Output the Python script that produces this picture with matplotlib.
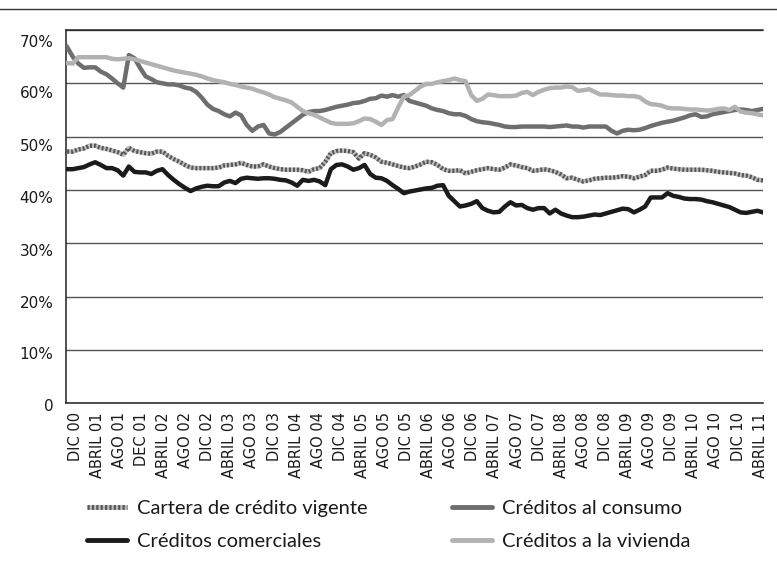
import numpy as np
import pandas as pd
import matplotlib
matplotlib.use("Agg")
import matplotlib.pyplot as plt
from matplotlib.lines import Line2D
from matplotlib.transforms import ScaledTranslation
from matplotlib import font_manager

# ---------------- data (monthly, Dec 2000 - Apr 2011, %) ----------------
months = pd.date_range("2000-12-01", "2011-04-01", freq="MS")

cartera = [
    47.2, 47.2, 47.6, 47.8, 48.3, 48.3, 47.9, 47.7, 47.4, 47.1,
    46.6, 47.9, 47.3, 47.1, 46.9, 46.8, 47.2, 47.2, 46.4, 45.8,
    45.3, 44.7, 44.2, 44.1, 44.1, 44.1, 44.1, 44.2, 44.6, 44.7,
    44.8, 45.1, 44.7, 44.4, 44.4, 44.8, 44.4, 44.1, 43.9, 43.8,
    43.8, 43.8, 43.7, 43.4, 43.9, 44.1, 45.3, 46.9, 47.3, 47.4,
    47.3, 47.1, 45.9, 46.9, 46.6, 46.1, 45.3, 45.1, 44.8, 44.5,
    44.2, 44.1, 44.4, 44.8, 45.3, 45.2, 44.7, 43.9, 43.6, 43.6,
    43.7, 43.1, 43.4, 43.7, 43.9, 44.1, 43.9, 43.8, 44.2, 44.8,
    44.6, 44.3, 44.1, 43.6, 43.7, 43.9, 43.7, 43.4, 42.9, 42.2,
    42.3, 41.9, 41.6, 41.8, 42.1, 42.2, 42.3, 42.3, 42.4, 42.6,
    42.5, 42.2, 42.5, 42.8, 43.6, 43.6, 43.8, 44.2, 44.0, 43.9,
    43.8, 43.8, 43.8, 43.8, 43.7, 43.6, 43.4, 43.3, 43.2, 43.1,
    42.8, 42.7, 42.4, 41.9, 41.8,
]

consumo = [
    66.8, 65.0, 63.7, 62.9, 63.0, 63.0, 62.2, 61.7, 60.9, 60.0,
    59.2, 65.3, 64.7, 62.9, 61.3, 60.8, 60.2, 60.0, 59.8, 59.8,
    59.6, 59.2, 59.0, 58.4, 57.3, 56.0, 55.2, 54.8, 54.2, 53.8,
    54.5, 54.0, 52.2, 51.1, 51.9, 52.2, 50.6, 50.4, 50.9, 51.7,
    52.5, 53.3, 54.1, 54.6, 54.8, 54.8, 55.0, 55.3, 55.6, 55.8,
    56.0, 56.3, 56.4, 56.7, 57.1, 57.2, 57.7, 57.5, 57.8, 57.5,
    57.8, 56.7, 56.4, 56.1, 55.8, 55.3, 55.0, 54.8, 54.4, 54.2,
    54.2, 53.9, 53.3, 52.9, 52.7, 52.6, 52.4, 52.2, 51.9, 51.8,
    51.8, 51.9, 51.9, 51.9, 51.9, 51.9, 51.8, 51.9, 52.0, 52.1,
    51.9, 51.9, 51.7, 51.9, 51.9, 51.9, 51.9, 51.1, 50.6, 51.1,
    51.3, 51.2, 51.3, 51.6, 52.0, 52.3, 52.6, 52.8, 53.0, 53.3,
    53.6, 54.0, 54.2, 53.7, 53.8, 54.2, 54.4, 54.6, 54.8, 55.0,
    55.1, 55.0, 54.8, 55.0, 55.2,
]

comerciales = [
    43.9, 43.9, 44.1, 44.3, 44.8, 45.2, 44.7, 44.1, 44.1, 43.7,
    42.7, 44.4, 43.4, 43.3, 43.3, 43.0, 43.6, 43.9, 42.8, 41.9,
    41.1, 40.4, 39.8, 40.3, 40.6, 40.8, 40.7, 40.7, 41.4, 41.7,
    41.3, 42.1, 42.3, 42.2, 42.1, 42.2, 42.2, 42.1, 41.9, 41.8,
    41.4, 40.8, 41.9, 41.7, 41.9, 41.6, 40.9, 43.9, 44.7, 44.8,
    44.4, 43.8, 44.1, 44.7, 43.0, 42.3, 42.2, 41.7, 40.9, 40.2,
    39.4, 39.7, 39.9, 40.1, 40.3, 40.4, 40.8, 40.9, 38.9, 37.9,
    36.9, 37.1, 37.4, 37.9, 36.6, 36.1, 35.8, 35.9, 36.9, 37.7,
    37.1, 37.2, 36.6, 36.3, 36.6, 36.6, 35.6, 36.3, 35.6, 35.2,
    34.9, 34.9, 35.0, 35.2, 35.4, 35.3, 35.6, 35.9, 36.2, 36.5,
    36.4, 35.8, 36.3, 36.9, 38.6, 38.6, 38.6, 39.4, 38.9, 38.7,
    38.4, 38.3, 38.3, 38.2, 37.9, 37.7, 37.4, 37.1, 36.8, 36.3,
    35.8, 35.7, 35.9, 36.1, 35.8,
]

vivienda = [
    63.8, 63.7, 64.9, 64.9, 64.9, 64.9, 64.9, 64.9, 64.6, 64.5,
    64.6, 64.7, 64.5, 64.2, 63.9, 63.6, 63.3, 63.0, 62.7, 62.4,
    62.2, 62.0, 61.8, 61.6, 61.3, 60.9, 60.6, 60.4, 60.2, 59.9,
    59.7, 59.4, 59.2, 59.0, 58.6, 58.3, 57.9, 57.4, 57.1, 56.8,
    56.4, 55.6, 54.8, 54.4, 54.1, 53.6, 53.1, 52.6, 52.4, 52.4,
    52.4, 52.5, 52.9, 53.4, 53.3, 52.8, 52.2, 53.1, 53.3, 55.5,
    57.5, 57.8, 58.6, 59.4, 59.9, 59.9, 60.2, 60.4, 60.6, 60.9,
    60.6, 60.4, 57.8, 56.7, 57.1, 57.9, 57.8, 57.6, 57.6, 57.6,
    57.7, 58.2, 58.4, 57.8, 58.4, 58.8, 59.1, 59.2, 59.2, 59.4,
    59.3, 58.6, 58.7, 58.9, 58.4, 57.9, 57.9, 57.8, 57.7, 57.7,
    57.6, 57.6, 57.4, 56.6, 56.1, 56.0, 55.8, 55.4, 55.3, 55.3,
    55.2, 55.1, 55.1, 55.0, 54.9, 55.0, 55.2, 55.3, 55.0, 55.6,
    54.7, 54.5, 54.4, 54.2, 54.0,
]

x_labels = ["DIC 00", "ABRIL 01", "AGO 01", "DEC 01", "ABRIL 02", "AGO 02",
            "DIC 02", "ABRIL 03", "AGO 03", "DIC 03", "ABRIL 04", "AGO 04",
            "DIC 04", "ABRIL 05", "AGO 05", "DIC 05", "ABRIL 06", "AGO 06",
            "DIC 06", "ABRIL 07", "AGO 07", "DIC 07", "ABRIL 08", "AGO 08",
            "DIC 08", "ABRIL 09", "AGO 09", "DIC 09", "ABRIL 10", "AGO 10",
            "DIC 10", "ABRIL 11"]
y_ticks = [0, 10, 20, 30, 40, 50, 60, 70]
y_labels = ["0", "10%", "20%", "30%", "40%", "50%", "60%", "70%"]

series_names = ["Cartera de crédito vigente", "Créditos al consumo",
                "Créditos comerciales", "Créditos a la vivienda"]

# ---------------- fonts ----------------
names = {f.name for f in font_manager.fontManager.ttflist}
legend_font = "Lato" if "Lato" in names else "DejaVu Sans"
tick_font = "DejaVu Sans"

# ---------------- figure ----------------
W, H = 777, 567
fig = plt.figure(figsize=(W / 100, H / 100), dpi=100)
ax_left, ax_right, ax_top, ax_bot = 66, 763, 30, 403.3
ax = fig.add_axes([ax_left / W, (H - ax_bot) / H,
                   (ax_right - ax_left) / W, (ax_bot - ax_top) / H])

x = np.arange(len(months))
lw = 3.2
ax.plot(x, cartera, color="#bdbdbd", lw=lw, solid_capstyle="butt", zorder=3)
ax.plot(x, cartera, color="#575757", lw=lw, dashes=(0.45, 0.45),
        dash_capstyle="butt", zorder=3.1)
ax.plot(x, comerciales, color="#1b1b1b", lw=lw, solid_joinstyle="round", zorder=4)
ax.plot(x, consumo, color="#6e6e6e", lw=lw, solid_joinstyle="round", zorder=5)
ax.plot(x, vivienda, color="#b2b2b2", lw=lw, solid_joinstyle="round", zorder=6)

ax.set_xlim(-0.2, len(months) - 1)
ax.set_ylim(0, 70)

ax.set_yticks(y_ticks)
ax.set_yticklabels(y_labels, fontsize=11, family=tick_font, color="#1a1a1a")
tick_pos = x[::4]
ax.set_xticks(tick_pos)
ax.set_xticklabels(x_labels, rotation=90, fontsize=10.5, family=tick_font,
                   color="#1a1a1a")
ax.tick_params(axis="both", length=0)
ax.tick_params(axis="y", pad=9)
ax.tick_params(axis="x", pad=6.5)

# label nudges to match reference placement
y_off_px = [2, 3, 5, 7, 7, 8, 9, 11]
for lab, d in zip(ax.get_yticklabels(), y_off_px):
    lab.set_transform(lab.get_transform() +
                      ScaledTranslation(0, -d / 100, fig.dpi_scale_trans))
for k, lab in enumerate(ax.get_xticklabels()):
    d = 8 - 0.35 * k
    lab.set_transform(lab.get_transform() +
                      ScaledTranslation(d / 100, 0, fig.dpi_scale_trans))

ax.grid(axis="y", color="#555555", lw=1.0)
ax.set_axisbelow(True)
ax.spines["right"].set_visible(False)
for side in ["left", "bottom", "top"]:
    ax.spines[side].set_color("#222222")
    ax.spines[side].set_linewidth(1.1)

# decorative top rule
fig.add_artist(Line2D([0, 1], [1 - 9 / H, 1 - 9 / H], transform=fig.transFigure,
                      color="#333333", lw=1.0))

# ---------------- legend ----------------
h_cart = (Line2D([], [], color="#bdbdbd", lw=3.5, solid_capstyle="butt"),
          Line2D([], [], color="#575757", lw=3.5, dashes=(0.45, 0.45),
                 dash_capstyle="butt"))
h_com = Line2D([], [], color="#1b1b1b", lw=3.5, solid_capstyle="round")
h_con = Line2D([], [], color="#6e6e6e", lw=3.5, solid_capstyle="round")
h_viv = Line2D([], [], color="#b2b2b2", lw=3.5, solid_capstyle="round")

leg_kw = dict(loc="center left", frameon=False, prop={"family": legend_font, "size": 14.5},
              handlelength=2.0, handletextpad=0.5, labelspacing=0.8,
              borderpad=0, borderaxespad=0)
yc = 1 - 525 / H
leg1 = fig.legend([h_cart, h_com], [series_names[0], series_names[2]],
                  bbox_to_anchor=(87 / W, yc), **leg_kw)
leg2 = fig.legend([h_con, h_viv], [series_names[1], series_names[3]],
                  bbox_to_anchor=(452 / W, yc), **leg_kw)
for leg in (leg1, leg2):
    for t in leg.get_texts():
        t.set_color("#1a1a1a")

fig.savefig("out.png", dpi=100)
